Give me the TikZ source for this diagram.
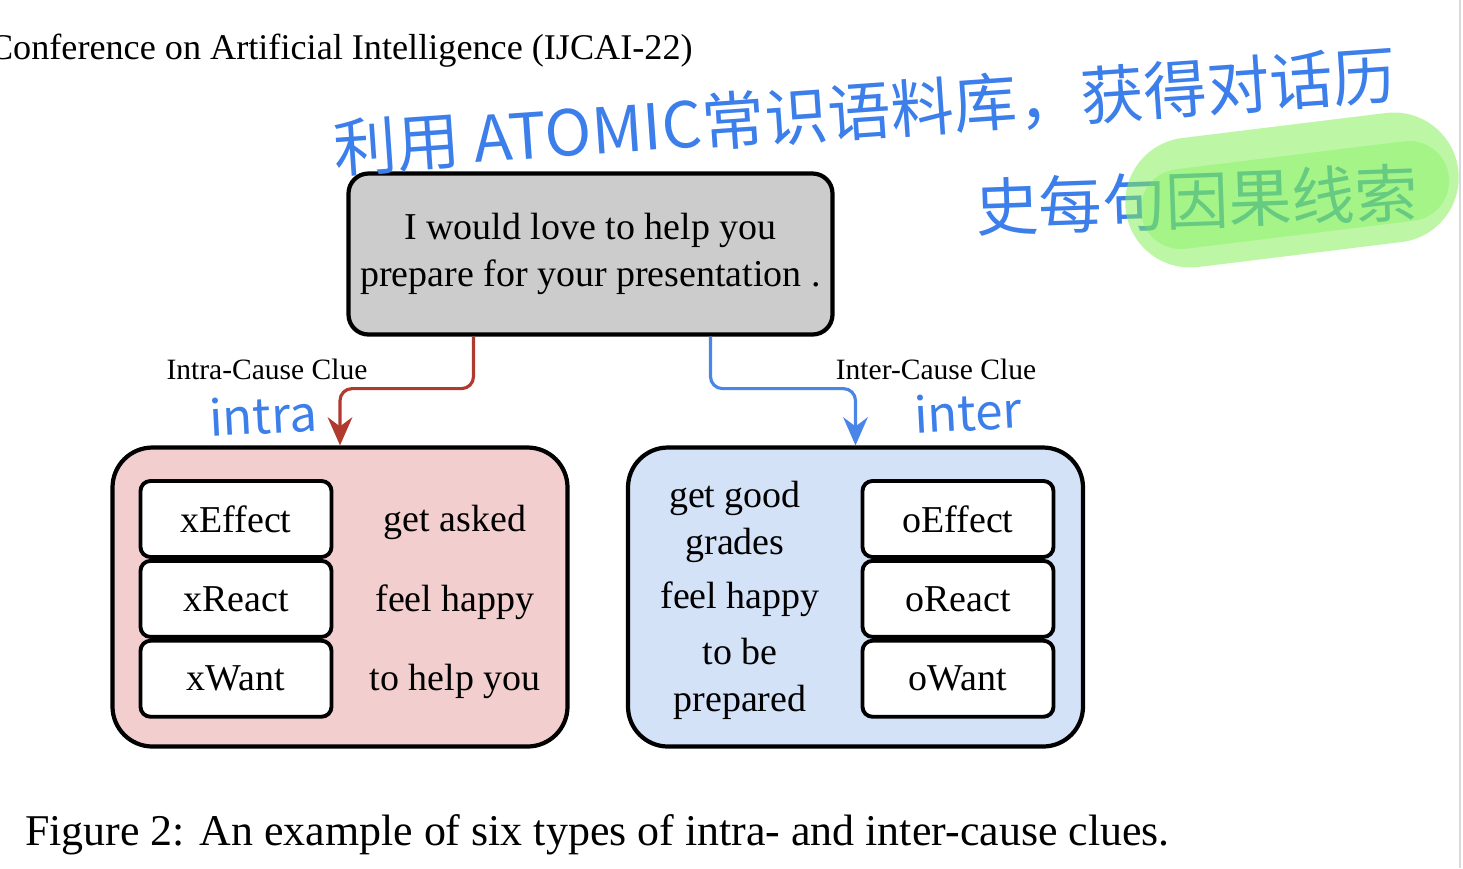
\documentclass[tikz,border=0pt]{standalone}
\usepackage{fontspec}
\setmainfont{Liberation Serif}
\newfontfamily\cjk{Noto Sans CJK SC}
\usetikzlibrary{arrows.meta,positioning,calc}
\definecolor{clueRed}{HTML}{B03A2E}
\definecolor{clueBlue}{HTML}{4A86E8}
\definecolor{intraFill}{HTML}{F2CECE}
\definecolor{interFill}{HTML}{D4E2F7}
\definecolor{uttFill}{HTML}{CCCCCC}
\definecolor{penBlue}{HTML}{3C7EEA}
\definecolor{marker}{HTML}{86EE5A}
\tikzset{
  every picture/.style={line width=0.75pt},
  bigbox/.style={draw, line width=1.2pt, rounded corners=0.4cm,
    minimum width=4.55cm, minimum height=2.99cm},
  relbox/.style={draw, fill=white, line width=1.1pt, rounded corners=0.1cm,
    minimum width=1.91cm, minimum height=0.76cm,
    font=\fontsize{10.8}{13}\selectfont},
  clue/.style={align=center, font=\fontsize{10.8}{13.4}\selectfont},
  cluearrow/.style={line width=0.9pt, rounded corners=0.12cm,
    -{Stealth[length=8pt,width=7pt]}},
  hand/.style={text=penBlue, font=\cjk\fontsize{18}{21}\selectfont},
}

\begin{document}
\begin{tikzpicture}
    \useasboundingbox (0,0) rectangle (14.63,-8.68);
    \draw[black!15, line width=0.6pt] (14.6,0) -- (14.6,-8.68);
    \node[anchor=base west, font=\fontsize{10.3}{12}\selectfont] (header) at (-0.24,-0.59)
        {Conference on Artificial Intelligence (IJCAI-22)};

    % utterance
    \node[draw, fill=uttFill, line width=1.2pt, rounded corners=0.2cm,
          minimum width=4.84cm, minimum height=1.61cm, align=center,
          font=\fontsize{10.8}{13.4}\selectfont] (utt) at (5.905,-2.54)
        {I would love to help you\\prepare for your presentation .};

    % the two clue groups
    \node[bigbox, fill=intraFill] (intra) at (3.40,-5.97) {};
    \node[bigbox, fill=interFill] (inter) at (8.555,-5.97) {};

    \node[relbox] (xeff) at (2.36,-5.19) {xEffect};
    \node[relbox, below=0cm of xeff] (xrea) {xReact};
    \node[relbox, below=0cm of xrea] (xwan) {xWant};
    \node[clue] (xeffv) at ([xshift=2.19cm,yshift=-0.03cm]xeff.center) {get asked};
    \node[clue] (xreav) at ([xshift=2.19cm,yshift=-0.03cm]xrea.center) {feel happy};
    \node[clue] (xwanv) at ([xshift=2.19cm,yshift=-0.03cm]xwan.center) {to help you};

    \node[relbox] (oeff) at (9.58,-5.19) {oEffect};
    \node[relbox, below=0cm of oeff] (orea) {oReact};
    \node[relbox, below=0cm of orea] (owan) {oWant};
    \node[clue] (oeffv) at ([xshift=-2.23cm,yshift=-0.03cm]oeff.center) {get good\\grades};
    \node[clue] (oreav) at ([xshift=-2.18cm]orea.center) {feel happy};
    \node[clue] (owanv) at ([xshift=-2.18cm]owan.center) {to be\\prepared};

    % arrows
    \node[font=\fontsize{8.4}{10}\selectfont] (intralbl) at (2.67,-3.69) {Intra-Cause Clue};
    \node[font=\fontsize{8.4}{10}\selectfont] (interlbl) at (9.36,-3.69) {Inter-Cause Clue};
    \draw[cluearrow, clueRed] ([xshift=-1.17cm]utt.south) -- ++(0,-0.52) -| (intra.north);
    \draw[cluearrow, clueBlue] ([xshift=1.2cm]utt.south) -- ++(0,-0.52) -| (inter.north);

    % handwritten notes
    \node[hand, rotate=4] (note1) at (8.65,-1.12) {利用 ATOMIC常识语料库，获得对话历};
    \node[hand, rotate=2] (note2) at (11.97,-2.0) {史每句因果线索};
    \node[hand, font=\cjk\fontsize{14}{17}\selectfont, rotate=3] (hintra) at (2.63,-4.15) {intra};
    \node[hand, font=\cjk\fontsize{14}{17}\selectfont, rotate=3] (hinter) at (9.68,-4.12) {inter};
    \node[fill=marker, opacity=0.55, rounded corners=0.65cm, minimum width=3.35cm,
          minimum height=1.3cm, rotate=7] (hilite) at (12.92,-1.9) {};
    \node[fill=marker!80!green, opacity=0.3, rounded corners=0.4cm, minimum width=3.1cm,
          minimum height=0.8cm, rotate=7] (hilite2) at (12.95,-1.95) {};

    \node[anchor=base west, font=\fontsize{12.5}{15}\selectfont] (caption) at (0.12,-8.45)
        {Figure 2: An example of six types of intra- and inter-cause clues.};
\end{tikzpicture}
\end{document}
